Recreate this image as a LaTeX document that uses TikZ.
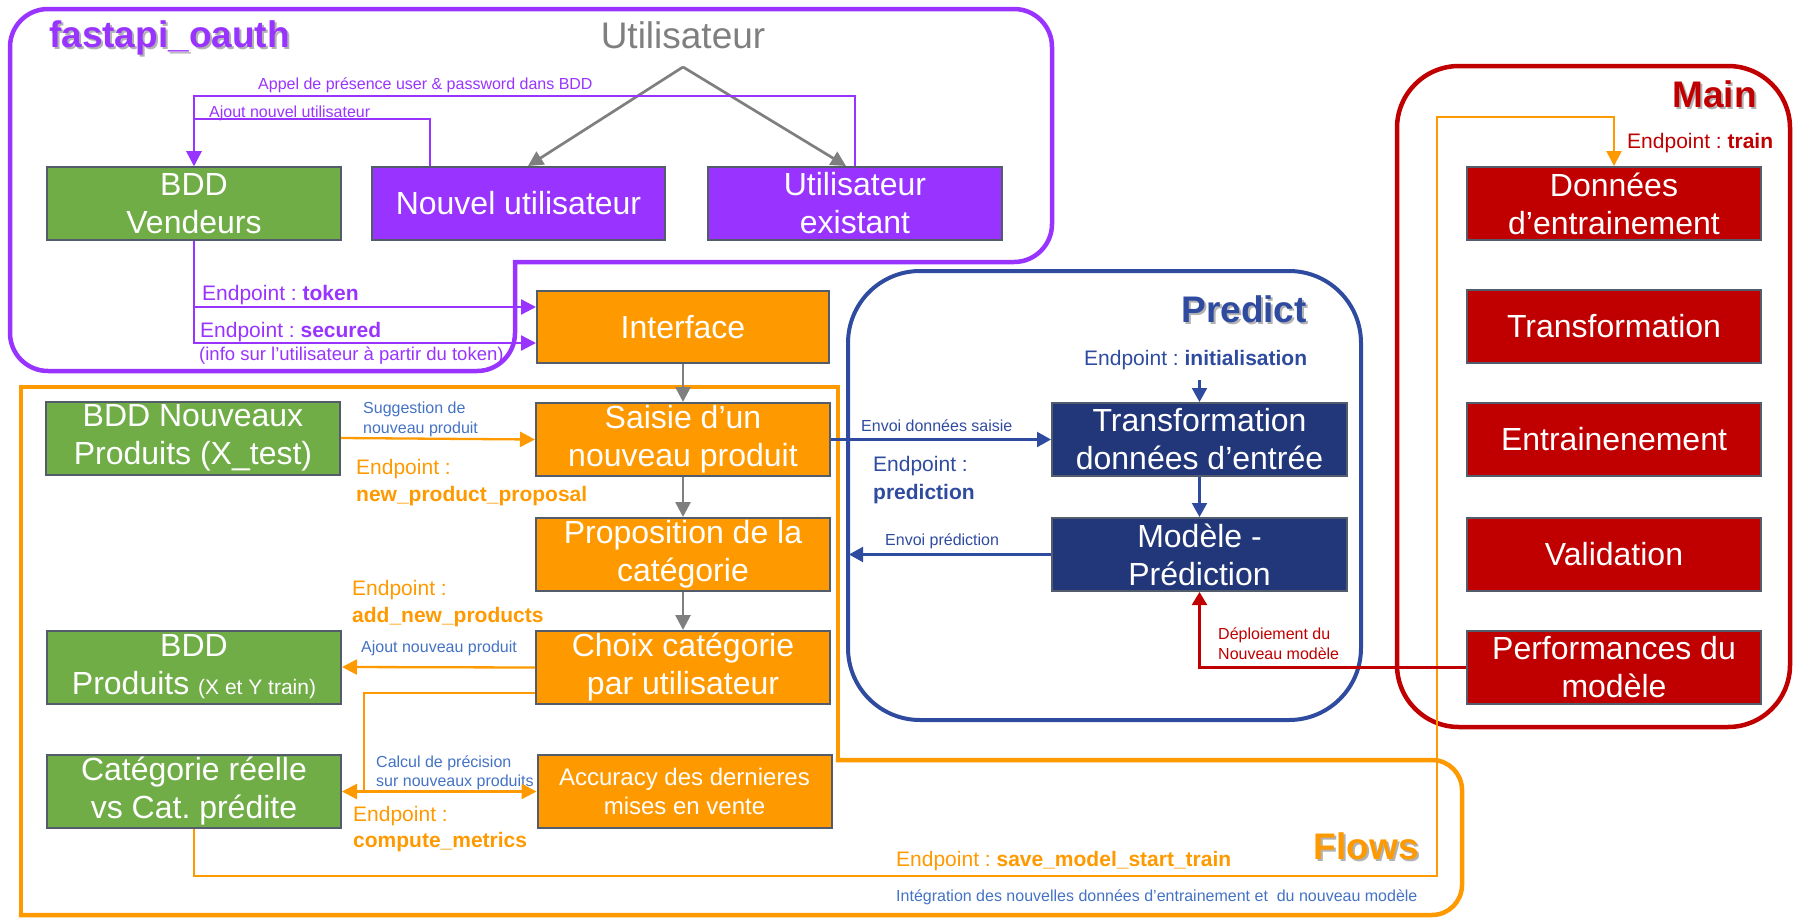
\documentclass[tikz,border=0pt]{standalone}
\usepackage{fontspec}
\setmainfont{Liberation Sans}
\frenchspacing
\usetikzlibrary{arrows.meta,backgrounds}
\definecolor{purp}{HTML}{9933FF}
\definecolor{grn}{HTML}{70AD47}
\definecolor{orng}{HTML}{FF9900}
\definecolor{navy}{HTML}{22377A}
\definecolor{pblue}{HTML}{2F4B9F}
\definecolor{lblue}{HTML}{4472C4}
\definecolor{dred}{HTML}{C00000}
\definecolor{gry}{HTML}{7F7F7F}
\definecolor{edge}{HTML}{535C6B}
\begin{document}
\begin{tikzpicture}[x=1pt,y=-1pt,
	box/.style={draw=edge,line width=2pt,minimum width=294pt,minimum height=73pt,inner sep=0pt,text=white,align=center,font=\fontsize{32}{38}\selectfont},
	lbl/.style={anchor=base west,inner sep=0pt,align=left},
	big/.style={inner sep=0pt,font=\fontsize{37}{40}\selectfont\bfseries},
	ep/.style={lbl,font=\fontsize{21}{27}\selectfont},
	sm/.style={lbl,font=\fontsize{16}{20}\selectfont},
	tip/.style={Triangle[length=15pt,width=15pt]},
	garrow/.style={gry,line width=2.7pt,-{Triangle[length=15pt,width=15pt]}},
	parrow/.style={purp,line width=2.4pt,-{Triangle[length=15pt,width=15pt]}},
	oarrow/.style={orng,line width=2.3pt,-{Triangle[length=15pt,width=15pt]}},
	barrow/.style={pblue,line width=2.2pt,-{Triangle[length=14pt,width=15pt]}},
	rarrow/.style={dred,line width=2.2pt,-{Triangle[length=13pt,width=15pt]}}]
	\useasboundingbox (0,0) rectangle (1794,918);
	% boxes
	\node[box,fill=grn] (vend) at (194,203.5) {BDD\\Vendeurs};
	\node[box,fill=purp,minimum width=293pt] (newu) at (518.5,203.5) {Nouvel utilisateur};
	\node[box,fill=purp] (exu) at (855,203.5) {Utilisateur\\existant};
	\node[box,fill=orng,minimum width=292pt,minimum height=72pt] (iface) at (683,327) {Interface};
	\node[box,fill=orng] (saisie) at (683,439.5) {Saisie d’un\\nouveau produit};
	\node[box,fill=orng] (prop) at (683,554.5) {Proposition de la\\catégorie};
	\node[box,fill=orng] (choix) at (683,667.5) {Choix catégorie\\par utilisateur};
	\node[box,fill=orng,font=\fontsize{24}{29}\selectfont] (acc) at (684.5,791.5) {Accuracy des dernieres\\mises en vente};
	\node[box,fill=grn] (bddnp) at (193,438) {BDD Nouveaux\\Produits (X\_test)};
	\node[box,fill=grn] (bddp) at (194,667) {BDD\\Produits {\fontsize{21}{25}\selectfont(X et Y train)}};
	\node[box,fill=grn] (cat) at (194,791.5) {Catégorie réelle\\vs Cat. prédite};
	\node[box,fill=navy,minimum width=295pt] (trans) at (1199.5,439.5) {Transformation\\données d’entrée};
	\node[box,fill=navy,minimum width=295pt] (model) at (1199.5,554.5) {Modèle -\\Prédiction};
	\foreach \n/\y/\t in {dent/203.5/{Données\\d’entrainement},tmain/326.5/Transformation,emain/439.5/Entrainenement,vmain/554.5/Validation,perf/667.5/{Performances du\\modèle}}
		\node[box,fill=dred] (\n) at (1614,\y) {\t};
	% titles
	\node[big,text=black!30,anchor=base west] at (51,49.5) {fastapi\_oauth};
	\node[big,text=purp,anchor=base west] (tfast) at (49,47) {fastapi\_oauth};
	\node[big,text=black!30,anchor=base east] at (1309,324.5) {Predict};
	\node[big,text=pblue,anchor=base east] (tpred) at (1307,322) {Predict};
	\node[big,text=black!30,anchor=base east] at (1759,109.5) {Main};
	\node[big,text=dred,anchor=base east] (tmainl) at (1757,107) {Main};
	\node[big,text=black!30,anchor=base east] at (1421,861.5) {Flows};
	\node[big,text=orng,anchor=base east] (tflow) at (1419,859) {Flows};
	\node[inner sep=0pt,anchor=base,text=gry,font=\fontsize{37}{40}\selectfont] (user) at (683,48) {Utilisateur};
	% labels
	\node[sm,text=purp] (lappel) at (258,89) {Appel de présence user \& password dans BDD};
	\node[sm,text=purp] (lajout) at (209,117) {Ajout nouvel utilisateur};
	\node[ep,text=purp] (ltoken) at (202,300) {Endpoint : \textbf{token}};
	\node[ep,text=purp] (lsec) at (200,337) {Endpoint : \textbf{secured}};
	\node[lbl,text=purp,font=\fontsize{18.5}{22}\selectfont] (linfo) at (199,360) {(info sur l’utilisateur à partir du token)};
	\node[sm,text=lblue] (lsugg) at (363,433) {Suggestion de\\nouveau produit};
	\node[ep,text=orng] (lnpp) at (356,501) {Endpoint :\\\textbf{new\_product\_proposal}};
	\node[ep,text=orng] (lanp) at (352,622) {Endpoint :\\\textbf{add\_new\_products}};
	\node[sm,text=lblue] (lajp) at (361,652) {Ajout nouveau produit};
	\node[sm,text=lblue,font=\fontsize{16}{19}\selectfont] (lcalc) at (376,786) {Calcul de précision\\sur nouveaux produits};
	\node[ep,text=orng,font=\fontsize{21}{26}\selectfont] (lcm) at (353,847) {Endpoint :\\\textbf{compute\_metrics}};
	\node[sm,text=pblue] (lenv) at (861,431) {Envoi données saisie};
	\node[ep,text=pblue,font=\fontsize{21}{28}\selectfont] (lpred) at (873,499) {Endpoint :\\\textbf{prediction}};
	\node[sm,text=pblue] (lenvp) at (885,545) {Envoi prédiction};
	\node[ep,text=pblue] (linit) at (1084,365) {Endpoint : \textbf{initialisation}};
	\node[sm,text=dred] (ldep) at (1218,659) {Déploiement du\\Nouveau modèle};
	\node[ep,text=dred] (ltrain) at (1627,148) {Endpoint : \textbf{train}};
	\node[ep,text=orng] (lsave) at (896,866) {Endpoint : \textbf{save\_model\_start\_train}};
	\node[sm,text=lblue] (linteg) at (896,901) {Intégration des nouvelles données d’entrainement et\ \ du nouveau modèle};
	% connectors
	\coordinate (utop) at (683,67);
	\coordinate (itop) at (1199.5,380);
	\draw[garrow] (utop) -- ([xshift=9.5pt]newu.north);
	\draw[garrow] (utop) -- ([xshift=-9pt]exu.north);
	\draw[parrow] (exu.north) -- ++(0,-70) -| (vend.north);
	\draw[parrow] ([xshift=-88.5pt]newu.north) -- ++(0,-47) -| (vend.north);
	\draw[parrow] (vend.south) |- ([yshift=20pt]iface.west);
	\draw[parrow] (vend.south) |- ([yshift=-16pt]iface.west);
	\draw[garrow] (iface) -- (saisie);
	\draw[garrow] (saisie) -- (prop);
	\draw[garrow] (prop) -- (choix);
	\draw[oarrow] (bddnp.east) -- (saisie.west);
	\draw[oarrow] (choix.west) -- (bddp.east);
	\draw[orng,line width=2.3pt] ([yshift=-25.5pt]choix.west) -| (364,791.5);
	\draw[orng,line width=2.3pt,{Triangle[length=15pt,width=15pt]}-{Triangle[length=15pt,width=15pt]}] (cat.east) -- (acc.west);
	\draw[oarrow] (cat.south) |- (1437,876) |- ([yshift=49pt]dent.north) -- (dent.north);
	\draw[barrow] (saisie.east) -- (trans.west);
	\draw[barrow] (itop) -- (trans.north);
	\draw[barrow] (trans.south) -- (model.north);
	\draw[barrow,shorten >=18pt] (model.west) -- (prop.east);
	\draw[rarrow] (perf.west) -| (model.south);
	% frames
	\begin{scope}[on background layer]
		\draw[purp,line width=4.5pt,rounded corners=38pt,line cap=rect] (515,262) -- (1052,262) -- (1052,9) -- (10,9) -- (10,371) -- (515,371) -- (515,262);
		\draw[pblue,line width=4pt,rounded corners=72pt] (848,271) rectangle (1361,720);
		\draw[dred,line width=4.5pt,rounded corners=62pt] (1397,66) rectangle (1790,727);
		\draw[orng,line width=4.5pt,rounded corners=30pt,line cap=rect] (838,760) -- (1462,760) -- (1462,915) -- (21,915);
		\draw[orng,line width=4.5pt,line cap=rect] (21,915) -- (21,387) -- (838,387) -- (838,760);
	\end{scope}
\end{tikzpicture}
\end{document}
